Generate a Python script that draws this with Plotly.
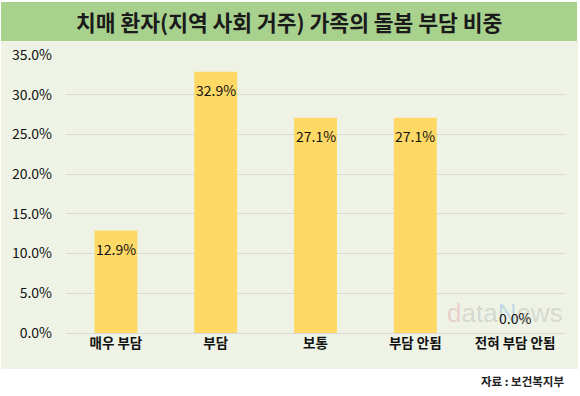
import plotly.graph_objects as go

categories = ["매우 부담", "부담", "보통", "부담 안됨", "전혀 부담 안됨"]
values = [12.9, 32.9, 27.1, 27.1, 0.0]
labels = ["12.9%", "32.9%", "27.1%", "27.1%", "0.0%"]
tick_vals = [0, 5, 10, 15, 20, 25, 30, 35]
tick_text = ["0.0%", "5.0%", "10.0%", "15.0%", "20.0%", "25.0%", "30.0%", "35.0%"]
title = "치매 환자(지역 사회 거주) 가족의 돌봄 부담 비중"
source = "자료 : 보건복지부"

FONT = "Noto Sans CJK KR"

fig = go.Figure()
fig.add_trace(go.Bar(
    x=categories, y=values,
    marker=dict(color="#FFD966", line=dict(width=0)),
    width=0.43, hoverinfo="skip",
))

W, H = 580, 396
L, R, T, B = 66, 15, 55, 63
pw, ph = W - L - R, H - T - B


def px(x):
    return (x - L) / pw


def py(y):
    return (H - B - y) / ph


annotations = [
    dict(text="<b>" + title + "</b>", xref="paper", yref="paper",
         x=px(289), y=py(21), showarrow=False, xanchor="center", yanchor="middle",
         font=dict(family=FONT, size=21.5, color="#1a1a1a")),
    dict(text="<b>" + source + "</b>", xref="paper", yref="paper",
         x=px(566), y=py(381), showarrow=False, xanchor="right", yanchor="middle",
         font=dict(family=FONT, size=11.5, color="#222222")),
    dict(text="<span style='color:rgba(225,140,140,0.35)'>d</span>"
              "<span style='color:rgba(150,150,150,0.28)'>ata</span>"
              "<span style='color:rgba(110,170,230,0.35)'>N</span>"
              "<span style='color:rgba(150,150,150,0.28)'>ews</span>",
         xref="paper", yref="paper", x=px(505), y=py(313),
         showarrow=False, xanchor="center", yanchor="middle",
         font=dict(family="Liberation Sans", size=26)),
]
# value labels: inside bar top, or above the axis for zero values
for c, v, t in zip(categories, values, labels):
    if v > 0:
        annotations.append(dict(
            text=t, x=c, y=v, xref="x", yref="y", showarrow=False,
            yanchor="middle", yshift=-18,
            font=dict(family=FONT, size=14, color="#111111")))
    else:
        annotations.append(dict(
            text=t, x=c, y=v, xref="x", yref="y", showarrow=False,
            yanchor="middle", yshift=15,
            font=dict(family=FONT, size=14, color="#111111")))

fig.update_layout(
    width=W, height=H,
    margin=dict(l=L, r=R, t=T, b=B, autoexpand=False),
    paper_bgcolor="white", plot_bgcolor="rgba(0,0,0,0)",
    showlegend=False,
    font=dict(family=FONT, color="#222222"),
    shapes=[
        dict(type="rect", xref="paper", yref="paper",
             x0=px(1), x1=px(578), y0=py(369), y1=py(41),
             fillcolor="#EEF3E6", line=dict(width=0), layer="below"),
        dict(type="rect", xref="paper", yref="paper",
             x0=px(1), x1=px(577), y0=py(41), y1=py(2),
             fillcolor="#A9D18E", line=dict(width=0), layer="below"),
    ],
    annotations=annotations,
)
fig.update_xaxes(
    showgrid=False, showline=False, ticks="", automargin=False,
    tickfont=dict(family=FONT, size=13.5, color="#111111"),
    tickprefix="<b>", ticksuffix="</b>",
)
fig.update_yaxes(
    range=[0, 35], tickvals=tick_vals, ticktext=tick_text, automargin=False,
    showgrid=True, gridcolor="#D9D9D9", gridwidth=1,
    zeroline=True, zerolinecolor="#D9D9D9", zerolinewidth=1,
    showline=False, ticks="", ticklabelstandoff=13,
    tickfont=dict(family=FONT, size=14, color="#111111"),
)

fig.write_html(
    "out.html",
    config={"displayModeBar": False},
    post_script="document.body.style.margin='0';document.body.style.overflow='hidden';",
)
